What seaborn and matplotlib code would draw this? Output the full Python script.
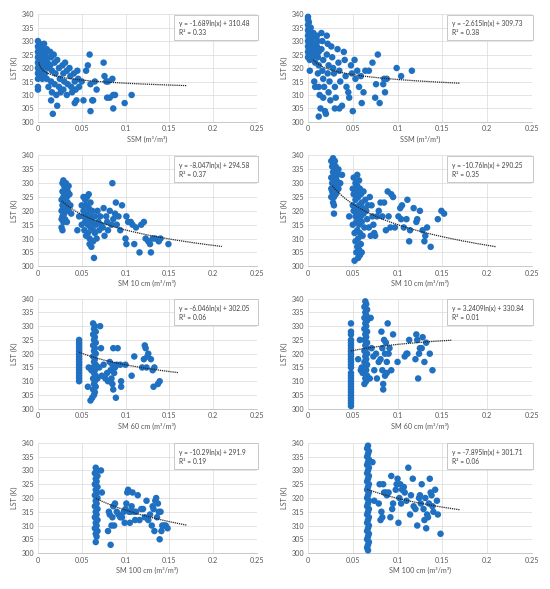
import numpy as np
import pandas as pd
import seaborn as sns
import matplotlib.pyplot as plt
from matplotlib.patches import Rectangle

sns.set_style("white")
plt.rcParams['font.family'] = ['Lato', 'DejaVu Sans']

# # # scatter values: (soil moisture, LST) # # #

left_ssm = [(0.000, 330), (0.000, 328), (0.001, 327), (0.000, 326), (0.001, 325), (0.000, 324), (0.001, 323),
            (0.000, 322), (0.001, 321), (0.000, 320), (0.001, 319), (0.000, 318), (0.000, 316), (0.000, 313),
            (0.000, 312), (0.002, 329), (0.003, 327), (0.002, 325), (0.003, 323), (0.002, 321), (0.003, 319),
            (0.004, 328), (0.005, 326), (0.004, 324), (0.005, 322), (0.006, 320), (0.004, 317), (0.005, 316),
            (0.007, 329), (0.008, 325), (0.007, 323), (0.009, 321), (0.008, 318), (0.010, 327), (0.010, 324),
            (0.011, 322), (0.012, 320), (0.010, 316), (0.012, 313), (0.014, 326), (0.015, 324), (0.014, 321),
            (0.016, 319), (0.015, 315), (0.016, 311), (0.015, 308), (0.017, 303), (0.018, 325), (0.019, 322),
            (0.020, 318), (0.019, 314), (0.021, 310), (0.022, 306), (0.022, 323), (0.024, 320), (0.025, 316),
            (0.024, 313), (0.026, 311), (0.028, 321), (0.029, 318), (0.030, 315), (0.029, 312), (0.031, 322),
            (0.033, 319), (0.034, 314), (0.033, 310), (0.036, 320), (0.037, 317), (0.038, 313), (0.039, 311),
            (0.041, 318), (0.042, 315), (0.043, 312), (0.042, 307), (0.045, 319), (0.046, 316), (0.047, 313),
            (0.044, 308), (0.050, 315), (0.052, 308), (0.055, 319), (0.057, 321), (0.059, 325), (0.060, 314),
            (0.060, 304), (0.062, 308), (0.063, 308), (0.065, 315), (0.067, 312), (0.075, 322), (0.076, 317),
            (0.078, 315), (0.079, 309), (0.080, 315), (0.082, 309), (0.085, 316), (0.086, 310), (0.086, 305),
            (0.088, 310), (0.099, 307), (0.107, 310)]

right_ssm = [(0.000, 339), (0.000, 338), (0.001, 337), (0.000, 336), (0.001, 335), (0.000, 334), (0.001, 333),
             (0.000, 332), (0.001, 331), (0.000, 330), (0.001, 329), (0.000, 328), (0.001, 327), (0.000, 326),
             (0.001, 325), (0.000, 324), (0.002, 323), (0.002, 319), (0.003, 335), (0.003, 332), (0.004, 330),
             (0.003, 328), (0.004, 326), (0.005, 324), (0.006, 333), (0.007, 331), (0.006, 329), (0.007, 327),
             (0.008, 325), (0.008, 322), (0.007, 315), (0.008, 313), (0.010, 332), (0.011, 330), (0.010, 328),
             (0.012, 326), (0.011, 324), (0.012, 321), (0.011, 318), (0.012, 313), (0.013, 310), (0.012, 302),
             (0.014, 305), (0.015, 333), (0.016, 330), (0.015, 327), (0.017, 323), (0.016, 319), (0.017, 316),
             (0.018, 313), (0.017, 309), (0.019, 304), (0.020, 303), (0.021, 332), (0.022, 329), (0.021, 325),
             (0.023, 321), (0.022, 318), (0.024, 315), (0.023, 311), (0.025, 308), (0.026, 328), (0.027, 324),
             (0.028, 320), (0.029, 318), (0.030, 313), (0.031, 309), (0.030, 305), (0.033, 327), (0.034, 322),
             (0.035, 319), (0.036, 315), (0.035, 305), (0.038, 306), (0.040, 326), (0.041, 323), (0.042, 317),
             (0.043, 313), (0.045, 311), (0.046, 309), (0.048, 321), (0.049, 318), (0.050, 304), (0.052, 323),
             (0.053, 316), (0.055, 319), (0.057, 313), (0.059, 317), (0.060, 307), (0.062, 311), (0.064, 319),
             (0.068, 319), (0.072, 322), (0.075, 309), (0.076, 314), (0.078, 325), (0.080, 307), (0.084, 314),
             (0.085, 316), (0.086, 311), (0.088, 316), (0.099, 320), (0.104, 317), (0.116, 319)]

left_sm10 = [(0.027, 324), (0.027, 320), (0.027, 317), (0.027, 314), (0.028, 330), (0.028, 327), (0.028, 322),
             (0.028, 318), (0.028, 313), (0.029, 331), (0.029, 325), (0.029, 321), (0.029, 316), (0.030, 329),
             (0.030, 326), (0.030, 323), (0.030, 319), (0.031, 328), (0.031, 324), (0.031, 320), (0.031, 317),
             (0.032, 330), (0.032, 326), (0.032, 322), (0.033, 329), (0.033, 325), (0.033, 316), (0.034, 327),
             (0.034, 323), (0.035, 329), (0.035, 320), (0.036, 326), (0.037, 322), (0.038, 319), (0.045, 313),
             (0.047, 318), (0.050, 322), (0.050, 315), (0.052, 325), (0.052, 320), (0.052, 318), (0.053, 313),
             (0.054, 324), (0.054, 316), (0.055, 322), (0.055, 311), (0.056, 325), (0.056, 319), (0.057, 315),
             (0.057, 312), (0.058, 326), (0.058, 321), (0.058, 317), (0.059, 310), (0.059, 308), (0.060, 323),
             (0.060, 318), (0.060, 314), (0.061, 307), (0.062, 320), (0.062, 316), (0.063, 313), (0.063, 309),
             (0.064, 303), (0.065, 318), (0.065, 312), (0.066, 315), (0.067, 310), (0.068, 320), (0.069, 316),
             (0.070, 313), (0.071, 318), (0.072, 315), (0.074, 314), (0.075, 321), (0.076, 311), (0.078, 318),
             (0.079, 316), (0.080, 313), (0.082, 320), (0.084, 315), (0.085, 330), (0.086, 317), (0.088, 319),
             (0.089, 323), (0.090, 315), (0.092, 318), (0.094, 313), (0.096, 322), (0.100, 310), (0.101, 318),
             (0.101, 308), (0.103, 316), (0.106, 316), (0.108, 315), (0.110, 308), (0.112, 314), (0.116, 305),
             (0.118, 315), (0.121, 316), (0.123, 310), (0.126, 309), (0.128, 308), (0.129, 305), (0.131, 310),
             (0.134, 310), (0.138, 309), (0.140, 310), (0.149, 308)]

right_sm10 = [(0.026, 338), (0.026, 332), (0.026, 328), (0.026, 325), (0.027, 336), (0.027, 330), (0.027, 327),
              (0.028, 339), (0.028, 334), (0.028, 331), (0.028, 326), (0.028, 323), (0.029, 337), (0.029, 333),
              (0.029, 329), (0.029, 325), (0.029, 322), (0.029, 319), (0.030, 338), (0.030, 335), (0.030, 332),
              (0.030, 328), (0.031, 336), (0.031, 330), (0.031, 326), (0.032, 334), (0.032, 331), (0.032, 327),
              (0.033, 333), (0.033, 329), (0.034, 335), (0.034, 328), (0.036, 330), (0.038, 333), (0.046, 318),
              (0.050, 328), (0.050, 322), (0.050, 315), (0.051, 332), (0.051, 326), (0.051, 320), (0.052, 312),
              (0.052, 302), (0.053, 330), (0.053, 324), (0.053, 318), (0.053, 309), (0.054, 327), (0.054, 321),
              (0.054, 316), (0.054, 305), (0.055, 333), (0.055, 329), (0.055, 319), (0.055, 313), (0.055, 307),
              (0.056, 325), (0.056, 317), (0.056, 310), (0.056, 303), (0.057, 331), (0.057, 322), (0.057, 315),
              (0.057, 306), (0.058, 328), (0.058, 320), (0.058, 312), (0.058, 304), (0.059, 326), (0.059, 318),
              (0.059, 308), (0.060, 323), (0.060, 316), (0.060, 305), (0.061, 321), (0.061, 311), (0.062, 327),
              (0.062, 319), (0.063, 314), (0.064, 324), (0.065, 320), (0.066, 317), (0.067, 322), (0.068, 314),
              (0.069, 325), (0.070, 311), (0.071, 322), (0.072, 318), (0.073, 315), (0.074, 312), (0.075, 311),
              (0.077, 318), (0.079, 320), (0.081, 323), (0.083, 318), (0.085, 323), (0.087, 313), (0.089, 327),
              (0.090, 318), (0.092, 314), (0.093, 326), (0.095, 325), (0.097, 314), (0.101, 318), (0.103, 321),
              (0.104, 317), (0.105, 322), (0.107, 314), (0.110, 317), (0.111, 324), (0.113, 309), (0.114, 313),
              (0.118, 321), (0.121, 316), (0.122, 317), (0.125, 320), (0.128, 313), (0.130, 309), (0.131, 311),
              (0.133, 314), (0.137, 307), (0.145, 317), (0.149, 320), (0.152, 319)]

left_sm60 = [(0.047, 325), (0.047, 324), (0.047, 323), (0.047, 322), (0.047, 321), (0.047, 320), (0.047, 319),
             (0.047, 318), (0.047, 317), (0.047, 316), (0.047, 315), (0.047, 314), (0.047, 313), (0.047, 312),
             (0.047, 311), (0.047, 310), (0.063, 331), (0.065, 330), (0.064, 329), (0.066, 328), (0.063, 327),
             (0.065, 326), (0.064, 325), (0.066, 324), (0.063, 323), (0.065, 322), (0.064, 321), (0.066, 320),
             (0.063, 319), (0.065, 318), (0.064, 317), (0.066, 316), (0.063, 315), (0.065, 314), (0.064, 313),
             (0.066, 312), (0.063, 311), (0.065, 310), (0.064, 309), (0.066, 308), (0.063, 307), (0.065, 306),
             (0.064, 305), (0.062, 304), (0.057, 308), (0.058, 315), (0.060, 303), (0.061, 314), (0.068, 311),
             (0.070, 315), (0.071, 330), (0.072, 322), (0.073, 312), (0.075, 316), (0.077, 311), (0.079, 313),
             (0.080, 310), (0.082, 317), (0.083, 314), (0.084, 311), (0.085, 309), (0.085, 316), (0.086, 322),
             (0.086, 307), (0.087, 313), (0.088, 315), (0.089, 304), (0.090, 316), (0.091, 322), (0.094, 316),
             (0.095, 310), (0.095, 308), (0.100, 316), (0.107, 312), (0.110, 319), (0.119, 315), (0.121, 318),
             (0.122, 323), (0.123, 322), (0.124, 315), (0.125, 319), (0.126, 320), (0.129, 318), (0.131, 314),
             (0.132, 308), (0.133, 315), (0.137, 309), (0.139, 310)]

right_sm60 = [(0.048, 331), (0.048, 328), (0.048, 327), (0.048, 325), (0.048, 324), (0.048, 323), (0.048, 322),
              (0.048, 321), (0.048, 320), (0.048, 319), (0.048, 318), (0.048, 317), (0.048, 316), (0.048, 315),
              (0.048, 313), (0.048, 312), (0.048, 311), (0.048, 310), (0.048, 309), (0.048, 308), (0.048, 307),
              (0.048, 306), (0.048, 305), (0.048, 304), (0.048, 303), (0.048, 302), (0.048, 301),
              (0.064, 339), (0.065, 338), (0.063, 337), (0.066, 336), (0.064, 335), (0.065, 334), (0.063, 333),
              (0.066, 332), (0.064, 331), (0.065, 330), (0.063, 329), (0.066, 328), (0.064, 327), (0.065, 326),
              (0.063, 325), (0.066, 324), (0.064, 323), (0.065, 322), (0.063, 321), (0.066, 320), (0.064, 319),
              (0.065, 318), (0.063, 317), (0.066, 316), (0.064, 315), (0.065, 314), (0.063, 313), (0.066, 312),
              (0.064, 311), (0.065, 310), (0.063, 309),
              (0.056, 318), (0.058, 325), (0.059, 314), (0.060, 315), (0.061, 313), (0.069, 311), (0.070, 333),
              (0.071, 322), (0.073, 319), (0.074, 314), (0.076, 320), (0.077, 311), (0.079, 317), (0.081, 318),
              (0.082, 328), (0.083, 322), (0.083, 314), (0.084, 309), (0.084, 307), (0.085, 325), (0.086, 320),
              (0.086, 312), (0.087, 324), (0.088, 317), (0.088, 313), (0.089, 331), (0.090, 320), (0.091, 322),
              (0.093, 314), (0.095, 327), (0.100, 317), (0.108, 319), (0.110, 320), (0.111, 320), (0.113, 325),
              (0.120, 318), (0.121, 327), (0.122, 325), (0.123, 311), (0.124, 320), (0.125, 322), (0.127, 322),
              (0.128, 326), (0.130, 317), (0.132, 324), (0.136, 320), (0.139, 314)]

left_sm100 = [(0.066, 331), (0.067, 330), (0.065, 329), (0.068, 328), (0.066, 327), (0.067, 326), (0.065, 325),
              (0.068, 324), (0.066, 323), (0.067, 322), (0.065, 321), (0.068, 320), (0.066, 319), (0.067, 318),
              (0.065, 317), (0.068, 316), (0.066, 315), (0.067, 314), (0.065, 313), (0.068, 312), (0.066, 311),
              (0.067, 310), (0.065, 309), (0.068, 308), (0.066, 307), (0.067, 306), (0.066, 304),
              (0.072, 330), (0.073, 322), (0.080, 308), (0.081, 315), (0.082, 314), (0.083, 303), (0.084, 310),
              (0.085, 313), (0.086, 317), (0.087, 310), (0.088, 318), (0.090, 315), (0.092, 314), (0.094, 313),
              (0.096, 313), (0.098, 315), (0.099, 311), (0.100, 316), (0.101, 318), (0.102, 322), (0.103, 323),
              (0.104, 315), (0.105, 311), (0.106, 315), (0.107, 317), (0.108, 322), (0.110, 315), (0.111, 312),
              (0.112, 315), (0.114, 321), (0.116, 312), (0.118, 316), (0.120, 316), (0.122, 313), (0.124, 319),
              (0.126, 312), (0.128, 314), (0.130, 310), (0.131, 317), (0.132, 316), (0.133, 308), (0.134, 319),
              (0.135, 320), (0.136, 313), (0.137, 318), (0.138, 315), (0.139, 305), (0.140, 315), (0.141, 308),
              (0.142, 310), (0.144, 310), (0.146, 310), (0.148, 309)]

right_sm100 = [(0.067, 339), (0.066, 338), (0.068, 337), (0.067, 336), (0.066, 335), (0.068, 334), (0.067, 333),
               (0.066, 332), (0.068, 331), (0.067, 330), (0.066, 329), (0.068, 328), (0.067, 327), (0.066, 326),
               (0.068, 325), (0.067, 324), (0.066, 323), (0.068, 322), (0.067, 321), (0.066, 320), (0.068, 319),
               (0.067, 318), (0.066, 317), (0.068, 316), (0.067, 315), (0.066, 314), (0.068, 313), (0.067, 312),
               (0.066, 311), (0.068, 310), (0.067, 309), (0.066, 308), (0.068, 307), (0.067, 306), (0.066, 305),
               (0.068, 304), (0.067, 303), (0.066, 302), (0.067, 301),
               (0.072, 333), (0.074, 319), (0.079, 318), (0.080, 325), (0.081, 312), (0.082, 315), (0.083, 313),
               (0.084, 325), (0.085, 322), (0.087, 322), (0.088, 321), (0.090, 322), (0.092, 313), (0.093, 328),
               (0.094, 316), (0.095, 318), (0.098, 323), (0.099, 325), (0.100, 327), (0.101, 311), (0.102, 320),
               (0.103, 325), (0.104, 318), (0.105, 323), (0.107, 324), (0.108, 322), (0.110, 319), (0.112, 331),
               (0.114, 314), (0.115, 321), (0.117, 327), (0.118, 317), (0.120, 316), (0.122, 310), (0.124, 320),
               (0.125, 321), (0.126, 318), (0.127, 325), (0.129, 316), (0.130, 312), (0.131, 320), (0.132, 309),
               (0.133, 314), (0.134, 313), (0.135, 318), (0.136, 327), (0.137, 322), (0.138, 321), (0.139, 317),
               (0.140, 315), (0.142, 323), (0.144, 319), (0.145, 314), (0.148, 307)]

# trendline coefficients (y = a ln(x) + b), R², and the x span Excel drew them over
slopes = [-1.689, -2.615, -8.047, -10.76, -6.046, 3.2409, -10.29, -7.895]
intercepts = [310.48, 309.73, 294.58, 290.25, 302.05, 330.84, 291.9, 301.71]
r2_values = ['0.33', '0.38', '0.37', '0.35', '0.06', '0.01', '0.19', '0.06']
trend_start = [0.001, 0.006, 0.027, 0.027, 0.047, 0.048, 0.066, 0.066]
trend_end = [0.17, 0.17, 0.21, 0.21, 0.16, 0.16, 0.17, 0.17]

x_labels = ['SSM (m³/m³)', 'SSM (m³/m³)', 'SM 10 cm (m³/m³)', 'SM 10 cm (m³/m³)',
            'SM 60 cm (m³/m³)', 'SM 60 cm (m³/m³)', 'SM 100 cm (m³/m³)', 'SM 100 cm (m³/m³)']
x_ticks = [0, 0.05, 0.1, 0.15, 0.2, 0.25]
x_tick_labels = ['0', '0.05', '0.1', '0.15', '0.2', '0.25']
y_ticks = [300, 305, 310, 315, 320, 325, 330, 335, 340]

all_points = [left_ssm, right_ssm, left_sm10, right_sm10, left_sm60, right_sm60, left_sm100, right_sm100]

BLUE = '#1f70c1'
GREY_TXT = '#595959'
GRID = '#d9d9d9'

fig = plt.figure(figsize=(5.5, 5.89), dpi=100)

col_left = [0.069, 0.560]
col_width = [0.398, 0.407]
row_bottom = [0.793, 0.548, 0.306, 0.061]
row_height = [0.183, 0.188, 0.187, 0.187]

for i, pts in enumerate(all_points):
    r, c = divmod(i, 2)
    ax = fig.add_axes([col_left[c], row_bottom[r], col_width[c], row_height[r]])

    df = pd.DataFrame(pts, columns=['sm', 'lst'])
    sns.scatterplot(data=df, x='sm', y='lst', ax=ax, color=BLUE, s=22,
                    edgecolor='none', linewidth=0, zorder=3, clip_on=False)

    xs = np.linspace(trend_start[i], trend_end[i], 200)
    trend = pd.DataFrame({'sm': xs, 'lst': slopes[i] * np.log(xs) + intercepts[i]})
    sns.lineplot(data=trend, x='sm', y='lst', ax=ax, color='#262626',
                 linewidth=0.9, linestyle=(0, (1, 0.7)), zorder=4)

    ax.set_xlim(0, 0.25)
    ax.set_ylim(300, 340)
    ax.set_xticks(x_ticks)
    ax.set_xticklabels(x_tick_labels)
    ax.set_yticks(y_ticks)
    ax.tick_params(length=0, labelsize=5.2, colors=GREY_TXT, pad=2.5)
    ax.grid(True, color=GRID, linewidth=0.5, zorder=0)
    ax.set_axisbelow(True)
    for side in ['top', 'right', 'left']:
        ax.spines[side].set_visible(False)
    ax.spines['bottom'].set_color('#bfbfbf')
    ax.spines['bottom'].set_linewidth(0.6)

    ax.set_xlabel(x_labels[i], fontsize=5.2, color=GREY_TXT, labelpad=2.5)
    ax.set_ylabel('LST (K)', fontsize=5.2, color=GREY_TXT, labelpad=3)

    # equation box like Excel's trendline label
    box = Rectangle((0.62, 0.76), 0.385, 0.235, transform=ax.transAxes, facecolor='white',
                    edgecolor='#bfbfbf', linewidth=0.6, zorder=5, clip_on=False)
    ax.add_patch(box)
    sign = '+' if intercepts[i] >= 0 else '-'
    eq = f'y = {slopes[i]}ln(x) {sign} {abs(intercepts[i])}'
    ax.text(0.645, 0.915, eq, transform=ax.transAxes, fontsize=4.8, color='#404040',
            va='center', ha='left', zorder=6)
    ax.text(0.645, 0.83, f'R² = {r2_values[i]}', transform=ax.transAxes, fontsize=4.8,
            color='#404040', va='center', ha='left', zorder=6)

fig.savefig('out.png', dpi=100)
